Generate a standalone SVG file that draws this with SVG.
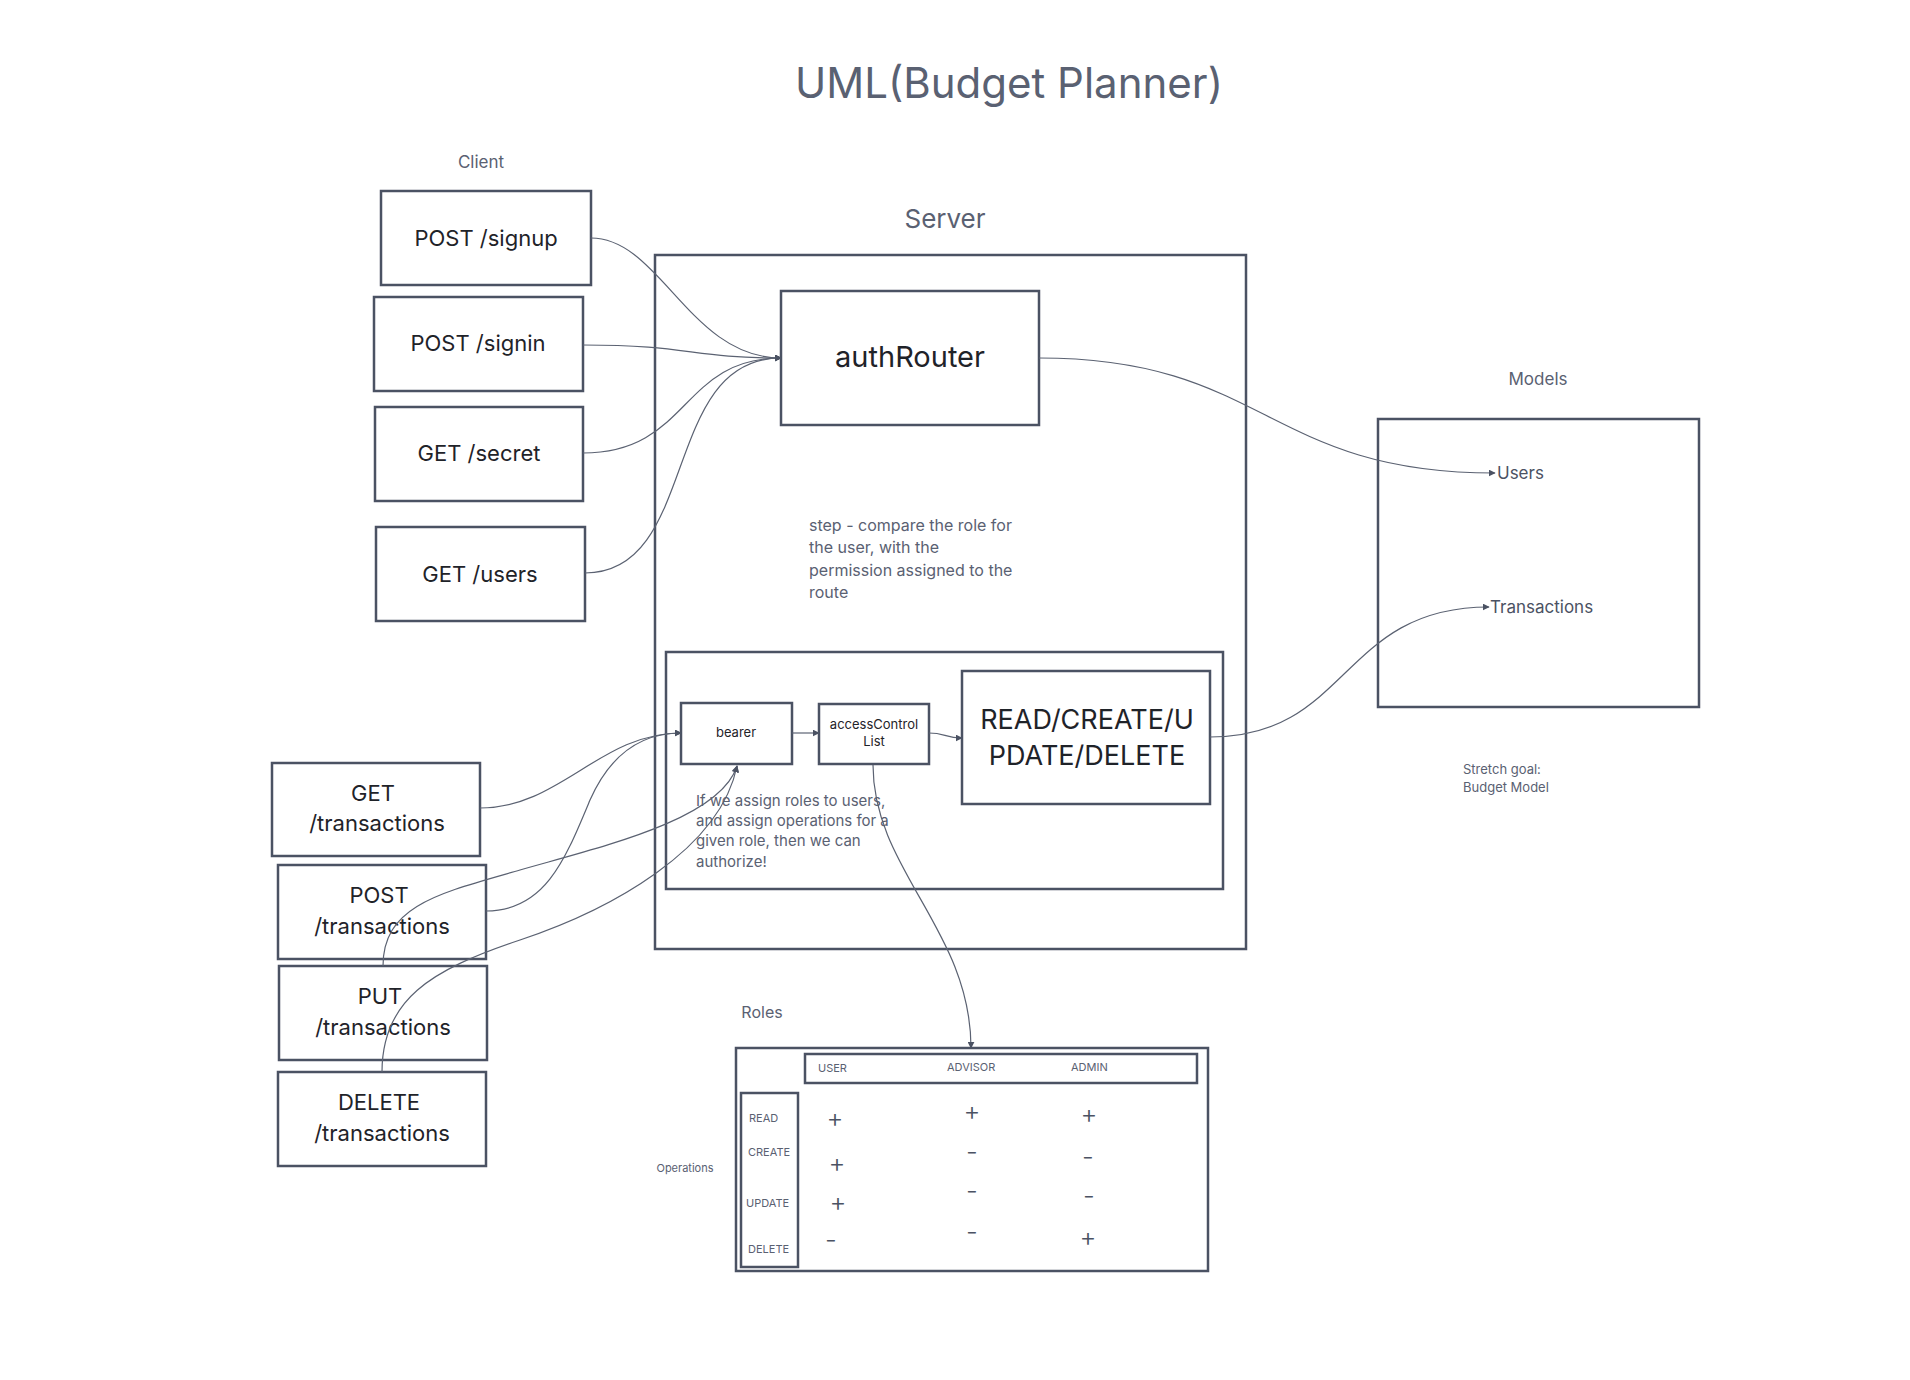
<svg xmlns="http://www.w3.org/2000/svg" width="1910" height="1380" viewBox="0 0 1910 1380">
<style>
.box{fill:#fff;stroke:#4b5263;stroke-width:2.5}
.frame{fill:none;stroke:#4b5263;stroke-width:2.5}
.lbl{font-family:Inter,"Liberation Sans",sans-serif;fill:#1f2329;text-anchor:middle}
.note{font-family:Inter,"Liberation Sans",sans-serif;fill:#5a6172}
.mdl{font-family:Inter,"Liberation Sans",sans-serif;fill:#4b5263;text-anchor:start}
.pm{font-family:Inter,"Liberation Sans",sans-serif;fill:#4b5263;text-anchor:middle;font-weight:300}
.cn{fill:none;stroke:#5b6272;stroke-width:1.2}
</style>
<defs>
<marker id="ah" viewBox="0 0 10 10" refX="9" refY="5" markerWidth="7" markerHeight="7" markerUnits="userSpaceOnUse" orient="auto">
<path d="M0,0 L10,5 L0,10 z" fill="#4b5263"/>
</marker>
</defs>
<rect width="1910" height="1380" fill="#fff"/>
<text x="1009" y="98" class="note" font-size="42" text-anchor="middle" fill="#4b5263">UML(Budget Planner)</text>
<text x="481" y="168" class="note" font-size="17" text-anchor="middle">Client</text>
<text x="945" y="228" class="note" font-size="26" text-anchor="middle">Server</text>
<text x="1538" y="385" class="note" font-size="17" text-anchor="middle">Models</text>
<text x="762" y="1018" class="note" font-size="16" text-anchor="middle">Roles</text>
<text x="685" y="1172" class="note" font-size="11" text-anchor="middle">Operations</text>
<text class="note" font-size="13"><tspan x="1463" y="774">Stretch goal:</tspan><tspan x="1463" y="792">Budget Model</tspan></text>

<g id="server"><rect class="frame" x="655" y="255" width="591" height="694"/></g>
<g id="inner"><rect class="frame" x="666" y="652" width="557" height="237"/></g>
<g id="models"><rect class="frame" x="1378" y="419" width="321" height="288"/>
<text x="1497" y="479" class="mdl" font-size="17">Users</text>
<text x="1490" y="613" class="mdl" font-size="17">Transactions</text></g>

<g id="signup"><rect class="box" x="381" y="191" width="210" height="94"/><text x="486" y="246" class="lbl" font-size="22">POST /signup</text></g>
<g id="signin"><rect class="box" x="374" y="297" width="209" height="94"/><text x="478" y="351" class="lbl" font-size="22">POST /signin</text></g>
<g id="secret"><rect class="box" x="375" y="407" width="208" height="94"/><text x="479" y="461" class="lbl" font-size="22">GET /secret</text></g>
<g id="users"><rect class="box" x="376" y="527" width="209" height="94"/><text x="480" y="582" class="lbl" font-size="22">GET /users</text></g>

<g id="authRouter"><rect class="box" x="781" y="291" width="258" height="134"/><text x="910" y="367" class="lbl" font-size="29">authRouter</text></g>
<g id="stepNote"><text class="note" font-size="16"><tspan x="809" y="531">step - compare the role for</tspan><tspan x="809" y="553">the user, with the</tspan><tspan x="809" y="576">permission assigned to the</tspan><tspan x="809" y="598">route</tspan></text></g>

<g id="bearer"><rect class="box" x="681" y="703" width="111" height="61"/><text x="736" y="737" class="lbl" font-size="13">bearer</text></g>
<g id="acl"><rect class="box" x="819" y="704" width="110" height="60"/><text class="lbl" font-size="13"><tspan x="874" y="729">accessControl</tspan><tspan x="874" y="746">List</tspan></text></g>
<g id="crud"><rect class="box" x="962" y="671" width="248" height="133"/><text class="lbl" font-size="27"><tspan x="1087" y="729">READ/CREATE/U</tspan><tspan x="1087" y="765">PDATE/DELETE</tspan></text></g>
<g id="ifNote"><text class="note" font-size="15"><tspan x="696" y="806">If we assign roles to users,</tspan><tspan x="696" y="826">and assign operations for a</tspan><tspan x="696" y="846">given role, then we can</tspan><tspan x="696" y="867">authorize!</tspan></text></g>

<g id="getT"><rect class="box" x="272" y="763" width="208" height="93"/><text class="lbl" font-size="22"><tspan x="373" y="801">GET</tspan><tspan x="377" y="831">/transactions</tspan></text></g>
<g id="postT"><rect class="box" x="278" y="865" width="208" height="94"/><text class="lbl" font-size="22"><tspan x="379" y="903">POST</tspan><tspan x="382" y="934">/transactions</tspan></text></g>
<g id="putT"><rect class="box" x="279" y="966" width="208" height="94"/><text class="lbl" font-size="22"><tspan x="380" y="1004">PUT</tspan><tspan x="383" y="1035">/transactions</tspan></text></g>
<g id="delT"><rect class="box" x="278" y="1072" width="208" height="94"/><text class="lbl" font-size="22"><tspan x="379" y="1110">DELETE</tspan><tspan x="382" y="1141">/transactions</tspan></text></g>

<g id="connectors">
<path class="cn" d="M591,238 C660,238 690,358 781,358" marker-end="url(#ah)"/>
<path class="cn" d="M583,345 C690,345 690,358 781,358" marker-end="url(#ah)"/>
<path class="cn" d="M583,453 C690,453 680,358 781,358" marker-end="url(#ah)"/>
<path class="cn" d="M585,573 C700,573 660,358 781,358" marker-end="url(#ah)"/>
<path class="cn" d="M1039,358 C1266,358 1266,473 1495,473" marker-end="url(#ah)"/>
<path class="cn" d="M1210,737 C1350,737 1340,607 1489,607" marker-end="url(#ah)"/>
<path class="cn" d="M792,733 L819,733" marker-end="url(#ah)"/>
<path class="cn" d="M929,733 C945,733 945,738 962,738" marker-end="url(#ah)"/>
<path class="cn" d="M873,765 C873,870 971,930 971,1048" marker-end="url(#ah)"/>
<path class="cn" d="M480,808 C560,808 600,733 681,733" marker-end="url(#ah)"/>
<path class="cn" d="M486,911 C545,911 565,860 590,800 C610,755 640,733 681,733" marker-end="url(#ah)"/>
<path class="cn" d="M383,966 C383,905 440,893 520,870 S720,820 737,766" marker-end="url(#ah)"/>
<path class="cn" d="M382,1072 C382,1000 430,970 520,940 S720,850 737,766" marker-end="url(#ah)"/>
</g>

<g id="roles">
<rect class="frame" x="736" y="1048" width="472" height="223"/>
<rect class="frame" x="805" y="1054" width="392" height="29"/>
<rect class="frame" x="741" y="1093" width="57" height="174"/>
<g class="note" font-size="11" fill="#4b5263">
<text x="818" y="1072">USER</text>
<text x="947" y="1071">ADVISOR</text>
<text x="1071" y="1071">ADMIN</text>
<text x="749" y="1122">READ</text>
<text x="748" y="1156">CREATE</text>
<text x="746" y="1207">UPDATE</text>
<text x="748" y="1253">DELETE</text>
</g>
<g class="pm" font-size="26">
<text x="835" y="1127">+</text><text x="837" y="1172">+</text><text x="838" y="1211">+</text><text x="831" y="1249">-</text>
<text x="972" y="1120">+</text><text x="972" y="1161">-</text><text x="972" y="1200">-</text><text x="972" y="1241">-</text>
<text x="1089" y="1123">+</text><text x="1088" y="1166">-</text><text x="1089" y="1205">-</text><text x="1088" y="1246">+</text>
</g>
</g>
</svg>
